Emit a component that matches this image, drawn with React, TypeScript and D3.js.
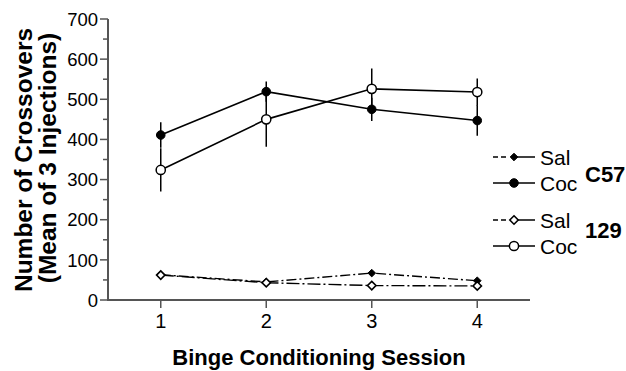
import React from "react";
import * as d3 from "d3";

const sessions = [1, 2, 3, 4];
const yTicks = [0, 100, 200, 300, 400, 500, 600, 700];
const yMinorTicks = [50, 150, 250, 350, 450, 550, 650];

const c57Coc = [411, 519, 475, 447];
const c57CocErr = [32, 25, 29, 38];
const s129Coc = [324, 450, 526, 518];
const s129CocErr = [54, 68, 51, 34];
const c57Sal = [63, 45, 67, 48];
const s129Sal = [62, 43, 36, 35];

const W = 626;
const H = 371;
const FONT = "'Liberation Sans', Arial, Helvetica, sans-serif";
const AX = "#555";

export default function App() {
  const x = d3.scaleLinear().domain([0.5, 4.5]).range([108, 530]);
  const y = d3.scaleLinear().domain([0, 700]).range([300, 19]);
  const line = d3
    .line<number>()
    .x((_, i) => x(sessions[i]))
    .y((v) => y(v));

  const diamond = (cx: number, cy: number, r: number) =>
    `M${cx},${cy - r}L${cx + r},${cy}L${cx},${cy + r}L${cx - r},${cy}Z`;

  const legendRows = [
    { y: 157, label: "Sal", kind: "fd" },
    { y: 183, label: "Coc", kind: "fc" },
    { y: 220, label: "Sal", kind: "od" },
    { y: 246, label: "Coc", kind: "oc" },
  ];

  const marker = (kind: string, cx: number, cy: number, key?: any) => {
    if (kind === "fd")
      return <path key={key} d={diamond(cx, cy, 3.8)} fill="#000" stroke="#000" strokeWidth={1} />;
    if (kind === "od")
      return <path key={key} d={diamond(cx, cy, 4.2)} fill="#fff" stroke="#000" strokeWidth={1.6} />;
    if (kind === "fc")
      return <circle key={key} cx={cx} cy={cy} r={4.3} fill="#000" stroke="#000" strokeWidth={1} />;
    return <circle key={key} cx={cx} cy={cy} r={4.6} fill="#fff" stroke="#000" strokeWidth={1.5} />;
  };

  return (
    <svg width={W} height={H} style={{ position: "absolute", left: 0, top: 0, background: "#fff" }} fontFamily={FONT}>
      <rect width={W} height={H} fill="#fff" />
      {/* Y axis */}
      <line x1={108} x2={108} y1={y(700)} y2={y(0)} stroke={AX} strokeWidth={2} />
      {yTicks.map((t) => (
        <g key={t}>
          <line x1={100} x2={108} y1={y(t)} y2={y(t)} stroke={AX} strokeWidth={1.5} />
          <text x={98} y={y(t)} dy="0.36em" textAnchor="end" fontSize={18.5} fill="#000">
            {t}
          </text>
        </g>
      ))}
      {yMinorTicks.map((t) => (
        <line key={t} x1={103} x2={108} y1={y(t)} y2={y(t)} stroke={AX} strokeWidth={1.5} />
      ))}
      {/* X axis */}
      <line x1={107} x2={530} y1={300} y2={300} stroke={AX} strokeWidth={2} />
      {sessions.map((s) => (
        <g key={s}>
          <line x1={x(s)} x2={x(s)} y1={300} y2={308} stroke={AX} strokeWidth={1.5} />
          <text x={x(s)} y={328} textAnchor="middle" fontSize={20} fill="#000">
            {s}
          </text>
        </g>
      ))}
      <text x={319} y={365} textAnchor="middle" fontSize={22} fontWeight="bold" fill="#000">
        Binge Conditioning Session
      </text>
      <text transform="translate(32,160) rotate(-90)" textAnchor="middle" fontSize={24.5} fontWeight="bold" fill="#000">
        Number of Crossovers
      </text>
      <text transform="translate(56,158) rotate(-90)" textAnchor="middle" fontSize={24.5} fontWeight="bold" fill="#000">
        (Mean of 3 Injections)
      </text>

      {/* Sal lines */}
      <path d={line(c57Sal) || ""} fill="none" stroke="#000" strokeWidth={1.4} strokeDasharray="10,3,2,3" />
      <path d={line(s129Sal) || ""} fill="none" stroke="#000" strokeWidth={1.4} strokeDasharray="13,3,2,3" />

      {/* Error bars */}
      {c57Coc.map((v, i) => (
        <line key={"e1" + i} x1={x(sessions[i])} x2={x(sessions[i])} y1={y(v - c57CocErr[i])} y2={y(v + c57CocErr[i])} stroke="#000" strokeWidth={1.5} />
      ))}
      {s129Coc.map((v, i) => (
        <line key={"e2" + i} x1={x(sessions[i])} x2={x(sessions[i])} y1={y(v - s129CocErr[i])} y2={y(v + s129CocErr[i])} stroke="#000" strokeWidth={1.5} />
      ))}
      {/* Coc lines */}
      <path d={line(c57Coc) || ""} fill="none" stroke="#000" strokeWidth={1.6} />
      <path d={line(s129Coc) || ""} fill="none" stroke="#000" strokeWidth={1.6} />

      {/* markers */}
      {c57Sal.map((v, i) => marker("fd", x(sessions[i]), y(v), "m1" + i))}
      {s129Sal.map((v, i) => marker("od", x(sessions[i]), y(v), "m2" + i))}
      {c57Coc.map((v, i) => marker("fc", x(sessions[i]), y(v), "m3" + i))}
      {s129Coc.map((v, i) => marker("oc", x(sessions[i]), y(v), "m4" + i))}

      {/* Legend */}
      {legendRows.map((r, i) => (
        <g key={"l" + i}>
          {r.kind === "fd" || r.kind === "od" ? (
            <line x1={493} x2={509} y1={r.y} y2={r.y} stroke="#000" strokeWidth={1.4} strokeDasharray="5,3" />
          ) : (
            <line x1={493} x2={513} y1={r.y} y2={r.y} stroke="#000" strokeWidth={1.5} />
          )}
          <line x1={513} x2={535} y1={r.y} y2={r.y} stroke="#000" strokeWidth={1.5} />
          {marker(r.kind, 514, r.y)}
          <text x={540} y={r.y} dy="0.36em" fontSize={21} fill="#000">
            {r.label}
          </text>
        </g>
      ))}
      <text x={585} y={174} dy="0.36em" fontSize={22} fontWeight="bold" fill="#000">
        C57
      </text>
      <text x={585} y={230} dy="0.36em" fontSize={22} fontWeight="bold" fill="#000">
        129
      </text>
    </svg>
  );
}
